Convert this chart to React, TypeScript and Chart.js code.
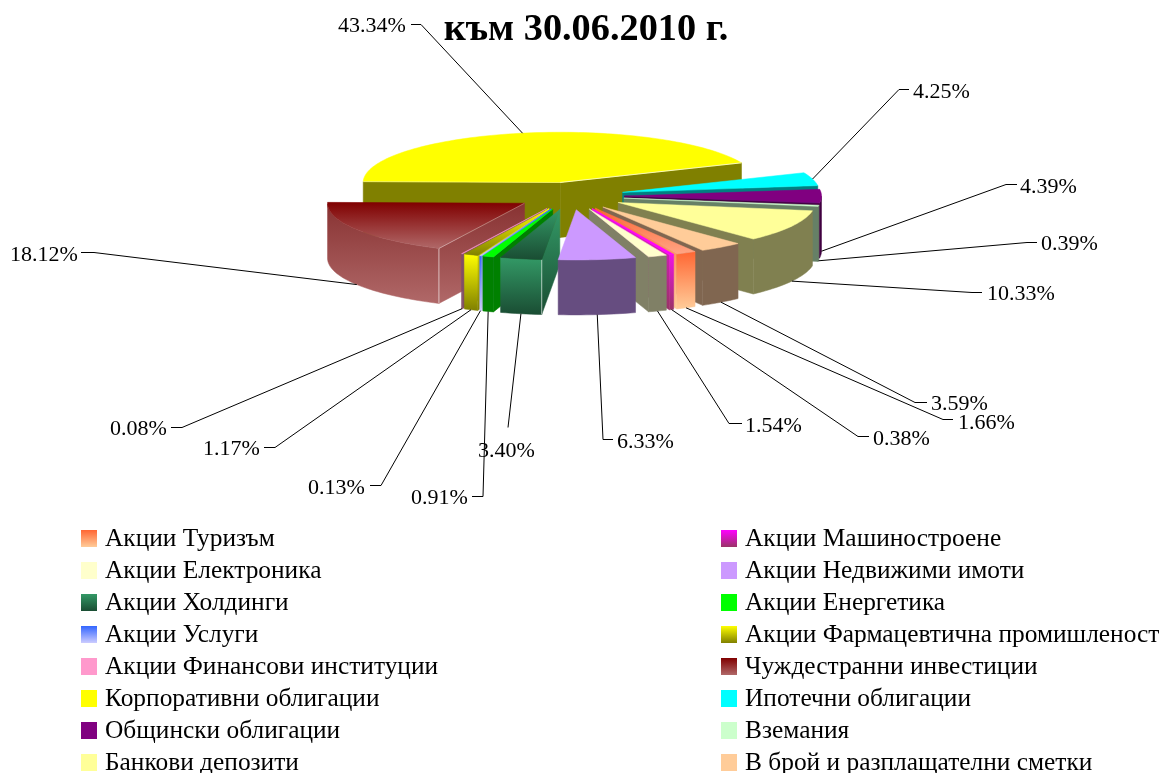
import React, { useEffect, useRef } from "react";
import { Chart, registerables } from "chart.js";

Chart.register(...registerables);

const categories = [
  "Акции Туризъм", "Акции Машиностроене", "Акции Електроника", "Акции Недвижими имоти",
  "Акции Холдинги", "Акции Енергетика", "Акции Услуги", "Акции Фармацевтична промишленост",
  "Акции Финансови институции", "Чуждестранни инвестиции", "Корпоративни облигации", "Ипотечни облигации",
  "Общински облигации", "Вземания", "Банкови депозити", "В брой и разплащателни сметки",
];
const shares = [1.66, 0.38, 1.54, 6.33, 3.4, 0.91, 0.13, 1.17, 0.08, 18.12, 43.34, 4.25, 4.39, 0.39, 10.33, 3.59];

const topFrom = ["#ff6633", "#ff00ff", "#ffffcc", "#cc99ff", "#339966", "#00ff00", "#3366ff", "#ffff00", "#ff99cc", "#800000", "#ffff00", "#00ffff", "#800080", "#ccffcc", "#ffff99", "#ffcc99"];
const topTo = ["#ffa585", "#ff00ff", "#ffffcc", "#cc99ff", "#1a4d33", "#00ff00", "#ccccff", "#808000", "#ff99cc", "#b06868", "#ffff00", "#00ffff", "#800080", "#ccffcc", "#ffff99", "#ffcc99"];
const wallFrom = ["#ff6633", "#f010e8", "#808066", "#664d80", "#339966", "#008000", "#3366ff", "#ffff00", "#804d66", "#883232", "#808000", "#008080", "#400040", "#668066", "#808050", "#806650"];
const wallTo = ["#ffcc99", "#993366", "#808066", "#664d80", "#1a4d33", "#008000", "#ccccff", "#808000", "#804d66", "#b06868", "#808000", "#008080", "#400040", "#668066", "#808050", "#806650"];
const legendTo = ["#ffcc99", "#993366", "#ffffcc", "#cc99ff", "#1a4d33", "#00ff00", "#ccccff", "#808000", "#ff99cc", "#b06868", "#ffff00", "#00ffff", "#800080", "#ccffcc", "#ffff99", "#ffcc99"];

// label start, leader start and leader elbow, in page pixels
const labelX = [958, 873, 745, 617, 478, 411, 308, 203, 110, 10, 338, 913, 1020, 1041, 987, 931];
const labelY = [423, 439, 426, 442, 451, 498, 488, 449, 429, 255, 26, 92, 187, 244, 294, 404];
const leadStartX = [953, 869, 742, 613, 508, 472, 370, 264, 171, 81, 411, 909, 1017, 1037, 982, 927];
const leadStartY = [419, 436, 423, 439, 427, 496, 485, 447, 427, 252, 24, 89, 184, 242, 292, 402];
const elbowX = [943, 858, 729, 603, 508, 483, 381, 275, 182, 94, 421, 899, 1006, 1027, 972, 915];
const elbowY = [419, 436, 423, 439, 427, 496, 485, 447, 427, 252, 24, 89, 184, 242, 292, 402];

const SHIFT_X = -15.5, CY = 196, SQUASH = 0.255, EXPLODE = 54, DEPTH = 55;
const SERIF = '"Liberation Serif"';

function grad(ctx: CanvasRenderingContext2D, y0: number, y1: number, a: string, b: string) {
  const g = ctx.createLinearGradient(0, y0, 0, y1 <= y0 ? y0 + 1 : y1);
  g.addColorStop(0, a);
  g.addColorStop(1, b);
  return g;
}

function poly(ctx: CanvasRenderingContext2D, pts: number[][], fill: any) {
  ctx.beginPath();
  pts.forEach((p, i) => (i ? ctx.lineTo(p[0], p[1]) : ctx.moveTo(p[0], p[1])));
  ctx.closePath();
  ctx.fillStyle = fill;
  ctx.fill();
  ctx.strokeStyle = fill;
  ctx.lineWidth = 0.5;
  ctx.stroke();
}

function line(ctx: CanvasRenderingContext2D, a: number[], b: number[], color: string) {
  ctx.strokeStyle = color;
  ctx.lineWidth = 1;
  ctx.beginPath();
  ctx.moveTo(a[0], a[1]);
  ctx.lineTo(b[0], b[1]);
  ctx.stroke();
}

const pie3d = {
  id: "pie3d",
  beforeDatasetsDraw(chart: any) {
    const ctx: CanvasRenderingContext2D = chart.ctx;
    const arcs = chart.getDatasetMeta(0).data as any[];
    const items = arcs.map((el, i) => {
      const p = el.getProps(["x", "startAngle", "endAngle", "outerRadius"], true);
      return { i, ...p, mid: (p.startAngle + p.endAngle) / 2 };
    });
    const down = (p: number[]) => [p[0], p[1] + DEPTH];
    const wallPts = (pts: number[][]) => [...pts, ...pts.slice().reverse().map(down)];
    [...items].sort((a, b) => Math.sin(a.mid) - Math.sin(b.mid)).forEach((it) => {
      const ax = it.x + SHIFT_X + Math.cos(it.mid) * EXPLODE;
      const ay = CY + Math.sin(it.mid) * EXPLODE * SQUASH;
      const at = (t: number) => [ax + Math.cos(t) * it.outerRadius, ay + Math.sin(t) * it.outerRadius * SQUASH];
      const span = it.endAngle - it.startAngle;
      const n = Math.max(2, Math.ceil(span / 0.03));
      const rim: number[][] = [];
      for (let k = 0; k <= n; k++) rim.push(at(it.startAngle + (span * k) / n));
      const apex = [ax, ay];
      const first = rim[0], last = rim[rim.length - 1];
      const ys = [ay, ...rim.map((p) => p[1])];
      const minY = Math.min(...ys), maxY = Math.max(...ys);
      const wf = (pts: number[][]) => {
        const yy = pts.map((p) => p[1]);
        return grad(ctx, Math.min(...yy), Math.max(...yy) + DEPTH, wallFrom[it.i], wallTo[it.i]);
      };
      if (first[0] < apex[0]) poly(ctx, wallPts([apex, first]), wf([apex, first]));
      if (apex[0] < last[0]) poly(ctx, wallPts([last, apex]), wf([last, apex]));
      let run: number[][] = [];
      const flush = () => {
        if (run.length > 1) poly(ctx, wallPts(run), wf(run));
        run = [];
      };
      for (let k = 1; k < rim.length; k++) {
        if (rim[k][0] < rim[k - 1][0]) {
          if (!run.length) run.push(rim[k - 1]);
          run.push(rim[k]);
        } else flush();
      }
      flush();
      if (first[0] < apex[0] && Math.sin(it.startAngle) > 0 && span > 0.15) line(ctx, first, down(first), "rgba(255,255,255,0.6)");
      poly(ctx, [apex, ...rim], grad(ctx, minY, maxY, topFrom[it.i], topTo[it.i]));
      if (apex[0] < last[0] && Math.sin(it.mid) < 0 && span > 2) line(ctx, apex, last, "rgba(255,255,255,0.7)");
      if (first[0] < apex[0] && span > 1) line(ctx, apex, first, "rgba(255,255,255,0.35)");
    });
    return false;
  },
  afterDraw(chart: any) {
    const ctx: CanvasRenderingContext2D = chart.ctx;
    const arcs = chart.getDatasetMeta(0).data as any[];
    ctx.save();
    ctx.font = `22px ${SERIF}`;
    ctx.textBaseline = "middle";
    ctx.textAlign = "left";
    arcs.forEach((el, i) => {
      const p = el.getProps(["x", "startAngle", "endAngle", "outerRadius"], true);
      const mid = (p.startAngle + p.endAngle) / 2;
      const r = p.outerRadius + EXPLODE;
      const x = p.x + SHIFT_X + Math.cos(mid) * r;
      const y = CY + Math.sin(mid) * r * SQUASH + (Math.sin(mid) > 0 ? DEPTH : 0);
      ctx.strokeStyle = "#000";
      ctx.lineWidth = 1;
      ctx.beginPath();
      ctx.moveTo(leadStartX[i], leadStartY[i] + 0.5);
      ctx.lineTo(elbowX[i], elbowY[i] + 0.5);
      ctx.lineTo(x, y);
      ctx.stroke();
      ctx.fillStyle = "#000";
      ctx.fillText(shares[i].toFixed(2) + "%", labelX[i], labelY[i]);
    });
    ctx.font = `25.4px ${SERIF}`;
    categories.forEach((name, i) => {
      const col = i % 2;
      const row = (i - col) / 2;
      const bx = col ? 721 : 81;
      const by = 530 + row * 32;
      ctx.fillStyle = grad(ctx, by, by + 17, topFrom[i], legendTo[i]);
      ctx.fillRect(bx, by, 16, 17);
      ctx.fillStyle = "#000";
      ctx.fillText(name, col ? 745 : 105, by + 9);
    });
    ctx.restore();
  },
};

export default function App() {
  const ref = useRef<HTMLCanvasElement>(null);
  useEffect(() => {
    const chart = new Chart(ref.current as HTMLCanvasElement, {
      type: "pie",
      data: {
        labels: categories,
        datasets: [{ data: shares, backgroundColor: topFrom, borderWidth: 0 }],
      },
      options: {
        responsive: false,
        animation: false,
        rotation: 149.6,
        layout: { padding: { left: 389, right: 381, top: 0, bottom: 316 } },
        plugins: {
          legend: { display: false },
          tooltip: { enabled: false },
          title: {
            display: true,
            text: "към 30.06.2010 г.",
            color: "#000",
            font: { family: SERIF, size: 38.3, weight: "bold" },
            padding: { top: 7, bottom: 8 },
          },
        },
      },
      plugins: [pie3d],
    } as any);
    return () => chart.destroy();
  }, []);
  return (
    <div style={{ position: "fixed", left: 0, top: 0, width: 1164, height: 773, overflow: "hidden", background: "#fff" }}>
      <canvas ref={ref} width={1164} height={773} style={{ display: "block" }} />
    </div>
  );
}
